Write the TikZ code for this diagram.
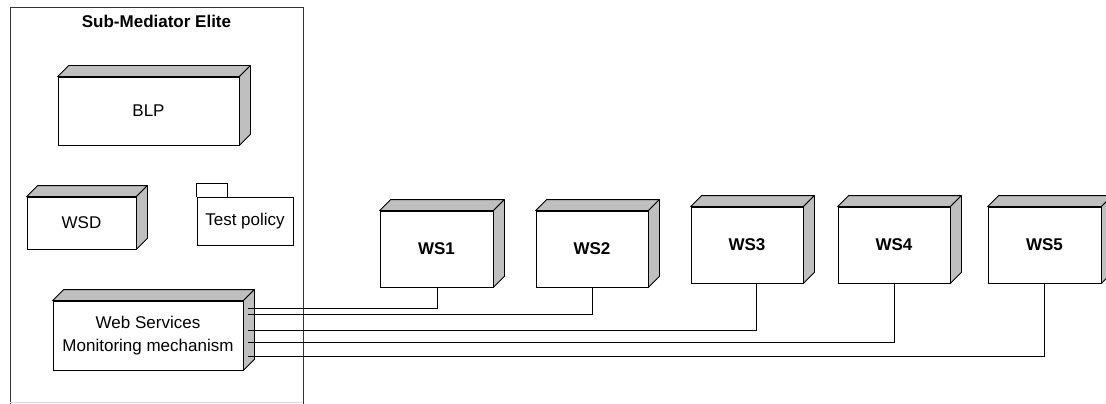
\documentclass[tikz,border=0pt]{standalone}
\usepackage{fontspec}
\setmainfont{Liberation Sans}
\tikzset{
  every picture/.style={x=1pt,y=-1pt},
  base/.style={draw=black, line width=0.8pt, fill=white, inner sep=0pt, align=center, font=\fontsize{17}{23}\selectfont},
  nodebox/.style={base},
  wsbox/.style={base, minimum width=112pt, minimum height=76pt, font=\fontsize{17}{20}\selectfont\bfseries},
  face/.style={draw=black, line width=0.8pt, fill=black!25, line join=round},
  wire/.style={draw=black, line width=0.8pt},
}
\newcommand{\cube}[2][11]{%
  \path[face] (#2.north west) -- ++(#1,-#1) -- ([shift={(#1,-#1)}]#2.north east) -- (#2.north east) -- cycle;
  \path[face] (#2.north east) -- ++(#1,-#1) -- ([shift={(#1,-#1)}]#2.south east) -- (#2.south east) -- cycle;
}
\begin{document}
\begin{tikzpicture}
\useasboundingbox[fill=white] (0,0) rectangle (1106,404);
% container
\draw[line width=0.8pt, black!80] (10,404) -- (10,7) -- (303,7) -- (303,404);
\draw[line width=0.8pt, black!15] (10,402.5) -- (303,402.5);
\node[anchor=base, font=\fontsize{17}{20}\selectfont\bfseries] (title) at (156.5,28) {Sub-Mediator Elite};
% BLP
\node[nodebox, minimum width=181pt, minimum height=68pt] (blp) at (148.5,111) {BLP};
\cube{blp}
% WSD
\node[nodebox, minimum width=109pt, minimum height=52pt] (wsd) at (81.5,223) {WSD};
\cube{wsd}
% Test policy
\node[nodebox, minimum width=96pt, minimum height=48pt] (tp) at (245,221) {Test policy};
\draw[line width=0.8pt] (tp.north west) -- ++(0,-13) -- ++(31,0) -- ++(0,13);
% WSM
\node[nodebox, minimum width=190pt, minimum height=69pt] (wsm) at (148,335.5) {Web Services\\Monitoring mechanism};
\cube{wsm}
% WS nodes
\node[wsbox, minimum width=113pt] (ws1) at (436.5,249) {WS1};
\cube{ws1}
\node[wsbox] (ws2) at (592,249) {WS2};
\cube{ws2}
\node[wsbox] (ws3) at (747,245) {WS3};
\cube{ws3}
\node[wsbox] (ws4) at (894,245) {WS4};
\cube{ws4}
\node[wsbox, minimum width=113pt] (ws5) at (1044.5,245) {WS5};
\cube{ws5}
% connectors
\coordinate (p) at ([xshift=5pt]wsm.east);
\draw[wire] (p |- 0,308) -| ([xshift=1pt]ws1.south);
\draw[wire] (p |- 0,314) -| (ws2.south);
\draw[wire] (p |- 0,330) -| ([xshift=9pt]ws3.south);
\draw[wire] (p |- 0,342) -| (ws4.south);
\draw[wire] (p |- 0,356) -| ([xshift=-0.5pt]ws5.south);
\end{tikzpicture}
\end{document}
